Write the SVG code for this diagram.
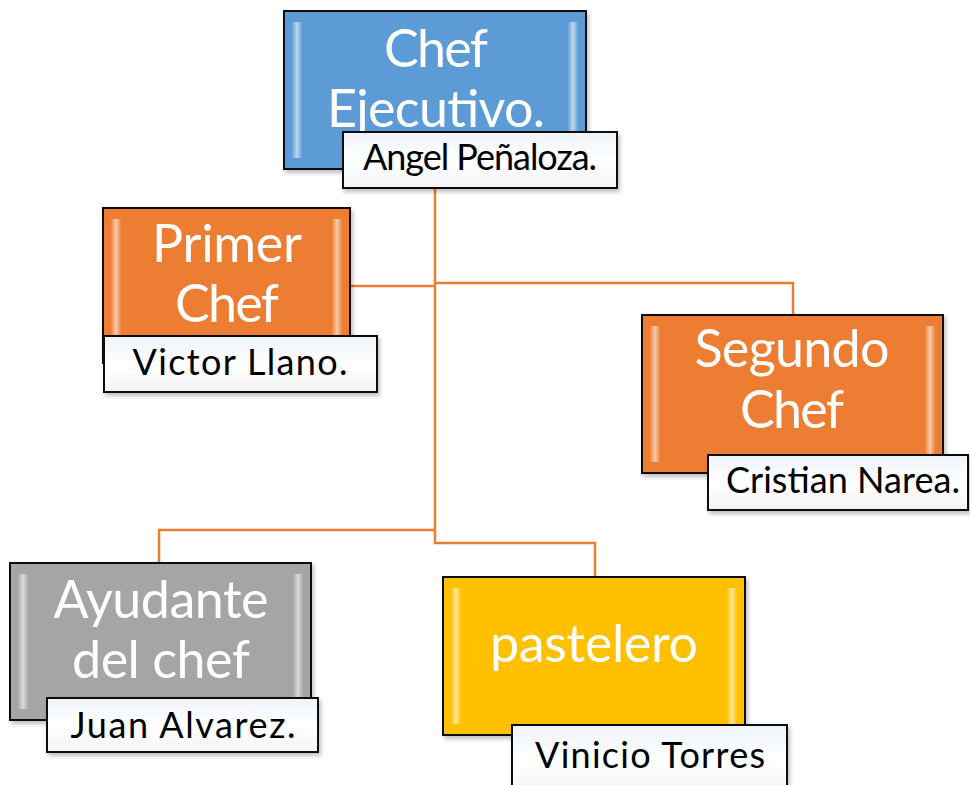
<svg xmlns="http://www.w3.org/2000/svg" width="970" height="785" viewBox="0 0 970 785">
<defs>
<linearGradient id="strip" x1="0" y1="0" x2="1" y2="0">
<stop offset="0" stop-color="#fff" stop-opacity="0.05"/>
<stop offset="0.5" stop-color="#fff" stop-opacity="0.6"/>
<stop offset="1" stop-color="#fff" stop-opacity="0.05"/>
</linearGradient>
<linearGradient id="lab" x1="0" y1="0" x2="0" y2="1">
<stop offset="0" stop-color="#eef3f9"/>
<stop offset="0.5" stop-color="#ffffff"/>
<stop offset="1" stop-color="#f4f4f4"/>
</linearGradient>
<filter id="sh" x="-5%" y="-5%" width="115%" height="120%">
<feDropShadow dx="2" dy="3" stdDeviation="2" flood-color="#000" flood-opacity="0.25"/>
</filter>
</defs>
<style>
.box{stroke:#111;stroke-width:2;filter:url(#sh)}
.lab{fill:url(#lab);stroke:#111;stroke-width:2;filter:url(#sh)}
.s{fill:url(#strip)}
.t{font-family:Lato,"Open Sans",sans-serif;fill:#fff;font-size:52px;text-anchor:middle}
.n{font-family:Lato,"Open Sans",sans-serif;fill:#000;font-size:36px;text-anchor:middle}
.c{fill:none;stroke:#ED7D31;stroke-width:2.5}
</style>
<g id="connectors">
<path class="c" d="M435 188 V543 H595 V577"/>
<path class="c" d="M350 286 H435"/>
<path class="c" d="M435 283 H793 V315"/>
<path class="c" d="M435 530 H159 V563"/>
</g>
<g id="chef-ejecutivo">
<rect class="box" x="284" y="11" width="302" height="158" fill="#5B9BD5"/>
<rect class="s" x="292" y="22" width="10" height="136"/>
<rect class="s" x="568" y="22" width="10" height="136"/>
<text class="t" x="436" y="67" textLength="104">Chef</text>
<text class="t" x="436" y="127" textLength="218">Ejecutivo.</text>
<rect class="lab" x="343" y="132" width="274" height="56"/>
<text class="n" x="480" y="170" textLength="234">Angel Peñaloza.</text>
</g>
<g id="primer-chef">
<rect class="box" x="103" y="208" width="247" height="155" fill="#ED7D31"/>
<rect class="s" x="111" y="219" width="10" height="133"/>
<rect class="s" x="332" y="219" width="10" height="133"/>
<text class="t" x="227" y="262" textLength="150">Primer</text>
<text class="t" x="227" y="322" textLength="104">Chef</text>
<rect class="lab" x="104" y="336" width="273" height="56"/>
<text class="n" x="240" y="375" textLength="215">Victor Llano.</text>
</g>
<g id="segundo-chef">
<rect class="box" x="642" y="315" width="301" height="158" fill="#ED7D31"/>
<rect class="s" x="650" y="326" width="10" height="136"/>
<rect class="s" x="925" y="326" width="10" height="136"/>
<text class="t" x="792" y="367" textLength="195">Segundo</text>
<text class="t" x="792" y="428" textLength="104">Chef</text>
<rect class="lab" x="708" y="455" width="260" height="55"/>
<text class="n" x="843" y="493" textLength="234">Cristian Narea.</text>
</g>
<g id="ayudante">
<rect class="box" x="10" y="563" width="301" height="157" fill="#A5A5A5"/>
<rect class="s" x="18" y="574" width="10" height="135"/>
<rect class="s" x="293" y="574" width="10" height="135"/>
<text class="t" x="161" y="618" textLength="215">Ayudante</text>
<text class="t" x="161" y="678" textLength="178">del chef</text>
<rect class="lab" x="47" y="698" width="271" height="54"/>
<text class="n" x="183" y="738" textLength="225">Juan Alvarez.</text>
</g>
<g id="pastelero">
<rect class="box" x="443" y="577" width="302" height="158" fill="#FFC000"/>
<rect class="s" x="451" y="588" width="10" height="136"/>
<rect class="s" x="727" y="588" width="10" height="136"/>
<text class="t" x="594" y="662" textLength="208">pastelero</text>
<rect class="lab" x="512" y="725" width="275" height="70"/>
<text class="n" x="650" y="768" textLength="230">Vinicio Torres</text>
</g>
</svg>
